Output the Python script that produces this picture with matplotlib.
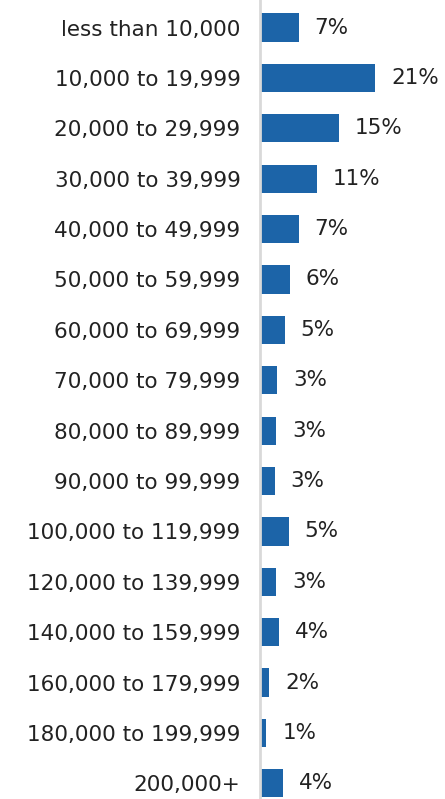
import matplotlib.pyplot as plt

# income brackets and share of households (%)
categories = ["less than 10,000", "10,000 to 19,999", "20,000 to 29,999",
              "30,000 to 39,999", "40,000 to 49,999", "50,000 to 59,999",
              "60,000 to 69,999", "70,000 to 79,999", "80,000 to 89,999",
              "90,000 to 99,999", "100,000 to 119,999", "120,000 to 139,999",
              "140,000 to 159,999", "160,000 to 179,999", "180,000 to 199,999",
              "200,000+"]
values = [7.2, 21.4, 14.6, 10.6, 7.2, 5.55, 4.6, 3.2, 3.0, 2.7,
          5.3, 3.0, 3.6, 1.7, 1.2, 4.3]
value_labels = [f"{round(v)}%" for v in values]

bar_color = "#1c64a8"
text_color = "#222222"

fig = plt.figure(figsize=(4.45, 7.99), dpi=100)
ax = fig.add_axes([260 / 445, 0, 185 / 445, 1])

pos = list(range(len(categories)))
ax.barh(pos, values, height=0.56, color=bar_color)

for y, v, lab in zip(pos, values, value_labels):
    ax.annotate(lab, xy=(v, y), xytext=(11.5, 0), textcoords="offset points",
                ha="left", va="center", fontsize=15.5, color=text_color)

ax.set_xlim(0, 34.4)
ax.set_ylim(15.31, -0.546)
ax.set_yticks(pos)
ax.set_yticklabels(categories, fontsize=15.5, color=text_color)
ax.tick_params(axis="y", length=0, pad=14)
ax.set_xticks([])

for s in ["top", "right", "bottom"]:
    ax.spines[s].set_visible(False)
ax.spines["left"].set_color("#d9d9d9")
ax.spines["left"].set_linewidth(2)

fig.savefig("out.png", dpi=100)
